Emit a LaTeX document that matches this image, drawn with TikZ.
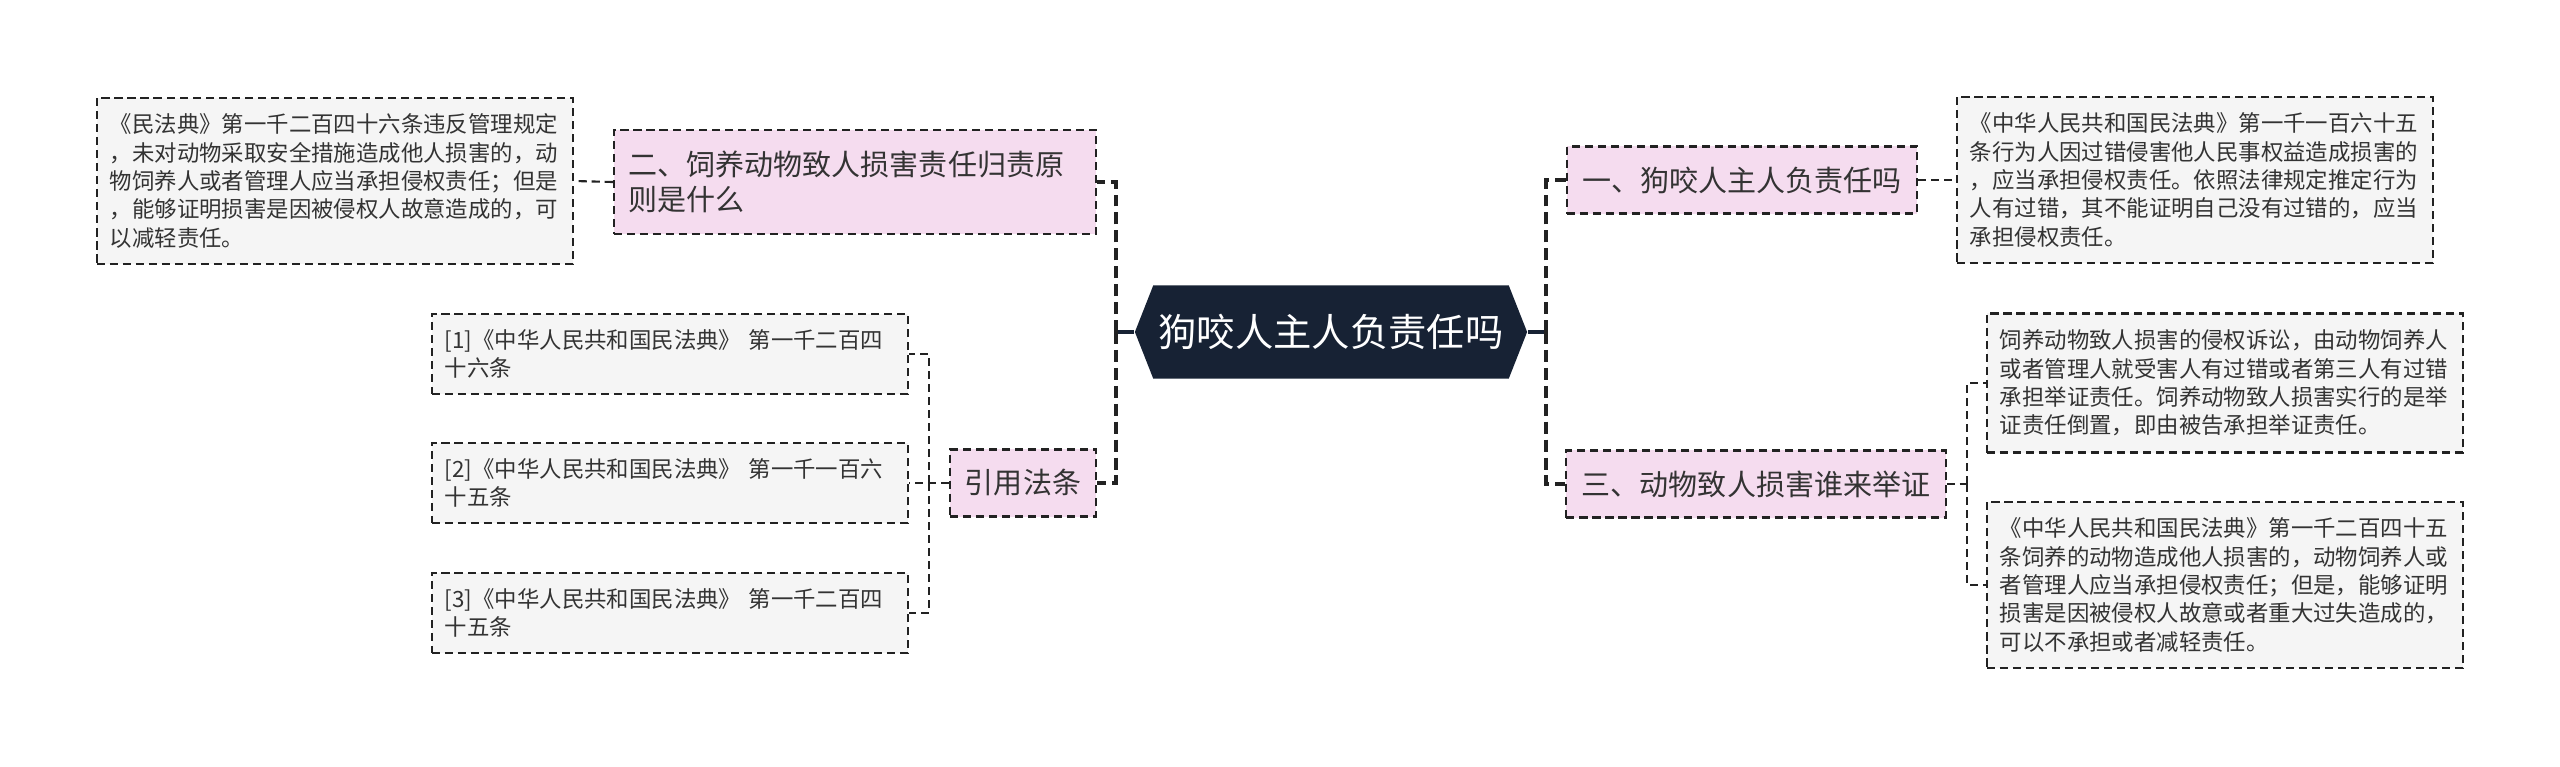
\documentclass[tikz,border=0pt]{standalone}
\usepackage{fontspec}
\setmainfont{Noto Sans CJK SC}
\usetikzlibrary{shapes.symbols}
\definecolor{rootfill}{HTML}{172234}
\definecolor{topicfill}{HTML}{F5DCEF}
\definecolor{notefill}{HTML}{F5F5F5}
\definecolor{edge}{HTML}{222222}
\definecolor{ink}{HTML}{333333}

\begin{document}
\begin{tikzpicture}[x=0.01cm, y=-0.01cm,
  root/.style={shape=signal, signal to=west and east, signal pointer angle=137, fill=rootfill, text=white,
    font=\fontsize{10.9pt}{12pt}\selectfont, minimum width=3.92cm, minimum height=0.93cm, inner sep=0pt},
  topic/.style={draw=edge, fill=topicfill, text=ink, dash pattern=on 2.3pt off 1.4pt, line width=0.6pt,
    font=\fontsize{8.25pt}{9.96pt}\selectfont, inner xsep=0.15cm, inner ysep=0pt, minimum height=0.67cm},
  note/.style={draw=edge, fill=notefill, text=ink, dash pattern=on 2.3pt off 1.4pt, line width=0.6pt,
    font=\fontsize{6.37pt}{8.05pt}\selectfont, align=left, text width=4.5cm, inner xsep=0.13cm, inner ysep=0pt},
  trunk/.style={draw=edge, line width=0.9pt, dash pattern=on 3.4pt off 1.7pt},
  twig/.style={draw=edge, line width=0.6pt, dash pattern=on 2.3pt off 1.4pt},
  stem/.style={draw=rootfill, line width=0.9pt}]

\fill[white] (0,0) rectangle (2560,766);
\useasboundingbox (0,0) rectangle (2560,766);

% centre
\node (dog) [root] at (1331,332) {狗咬人主人负责任吗};

% left side
\node (q2) [topic, align=left, text width=4.52cm, minimum height=1.04cm] at (855,182) {二、饲养动物致人损害责任归责原\\则是什么};
\node (q2a) [note, minimum height=1.66cm] at (335,181) {《民法典》第一千二百四十六条违反管理规定\\，未对动物采取安全措施造成他人损害的，动\\物饲养人或者管理人应当承担侵权责任；但是\\，能够证明损害是因被侵权人故意造成的，可\\以减轻责任。};
\node (law) [topic, minimum width=1.46cm] at (1023,483) {引用法条};
\node (law1) [note, minimum height=0.8cm] at (670,354) {[1]《中华人民共和国民法典》~第一千二百四\\十六条};
\node (law2) [note, minimum height=0.8cm] at (670,483) {[2]《中华人民共和国民法典》~第一千一百六\\十五条};
\node (law3) [note, minimum height=0.8cm] at (670,613) {[3]《中华人民共和国民法典》~第一千二百四\\十五条};

% right side
\node (q1) [topic, minimum width=3.5cm] at (1742,180) {一、狗咬人主人负责任吗};
\node (q1a) [note, minimum height=1.66cm] at (2195,180) {《中华人民共和国民法典》第一千一百六十五\\条行为人因过错侵害他人民事权益造成损害的\\，应当承担侵权责任。依照法律规定推定行为\\人有过错，其不能证明自己没有过错的，应当\\承担侵权责任。};
\node (q3) [topic, minimum width=3.79cm] at (1756,484) {三、动物致人损害谁来举证};
\node (q3a) [note, minimum height=1.39cm] at (2225,383) {饲养动物致人损害的侵权诉讼，由动物饲养人\\或者管理人就受害人有过错或者第三人有过错\\承担举证责任。饲养动物致人损害实行的是举\\证责任倒置，即由被告承担举证责任。};
\node (q3b) [note, minimum height=1.66cm] at (2225,585) {《中华人民共和国民法典》第一千二百四十五\\条饲养的动物造成他人损害的，动物饲养人或\\者管理人应当承担侵权责任；但是，能够证明\\损害是因被侵权人故意或者重大过失造成的，\\可以不承担或者减轻责任。};

% joints
\coordinate (lj) at (1116,332);
\coordinate (rj) at (1546,332);
\coordinate (lawj) at (929,483);
\coordinate (q3j) at (1967,484);

\draw [stem] (dog.west) -- (lj);
\draw [stem] (dog.east) -- (rj);
\draw [trunk] (lj) |- (q2.east);
\draw [trunk] (lj) |- (law.east);
\draw [trunk] (rj) |- (q1.west);
\draw [trunk] (rj) |- (q3.west);

\draw [twig] (q2.west) -- (q2a.east);
\draw [twig] (q1.east) -- (q1a.west);
\draw [twig] (law.west) -- (law2.east);
\draw [twig] (lawj) |- (law1.east);
\draw [twig] (lawj) |- (law3.east);
\draw [twig] (q3.east) -- (q3j);
\draw [twig] (q3j) |- (q3a.west);
\draw [twig] (q3j) |- (q3b.west);
\end{tikzpicture}
\end{document}
